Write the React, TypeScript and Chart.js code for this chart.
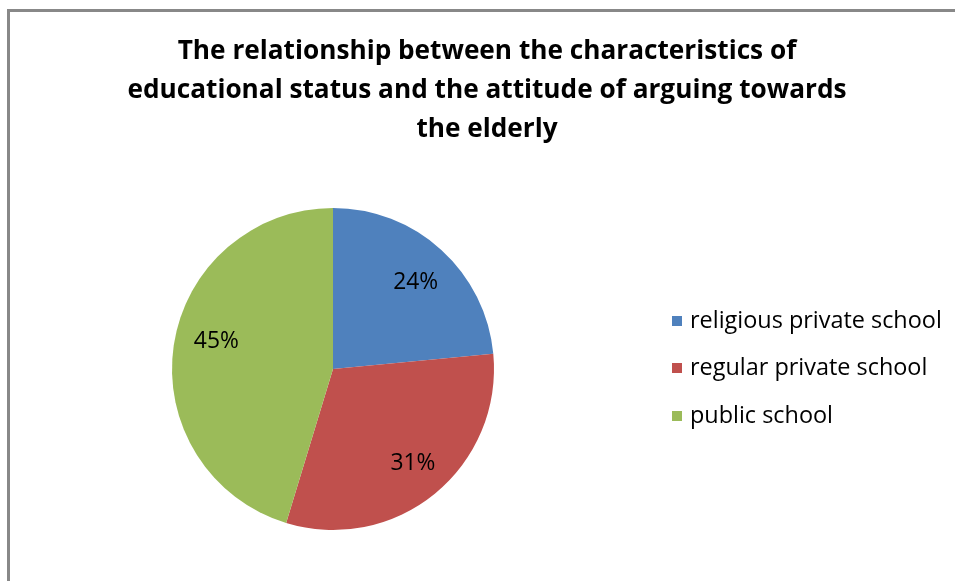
import React, { useEffect, useRef } from "react";
import { Chart, registerables } from "chart.js";

Chart.register(...registerables);

const titleLines = [
  "The relationship between the characteristics of",
  "educational status and the attitude of arguing towards",
  "the elderly",
];
const categories = ["religious private school", "regular private school", "public school"];
const values = [23.5, 31.2, 45.3];
const colors = ["#4F81BD", "#C0504D", "#9BBB59"];

const FONT = "'Open Sans', Lato, sans-serif";

function fitSize(ctx: CanvasRenderingContext2D, text: string, weight: string, target: number) {
  ctx.font = `${weight} 20px ${FONT}`;
  const w = ctx.measureText(text).width;
  return (20 * target) / w;
}

// small nudges to match the reference label placement
const labelNudge = [
  [2, 2],
  [4, 2],
  [2, -10],
];

const overlayPlugin = {
  id: "overlay",
  afterDraw(chart: any) {
    const ctx = chart.ctx as CanvasRenderingContext2D;
    ctx.save();
    // title
    const ts = fitSize(ctx, titleLines[0], "bold", 619);
    ctx.fillStyle = "#000";
    ctx.font = `bold ${ts}px ${FONT}`;
    ctx.textAlign = "center";
    ctx.textBaseline = "middle";
    const ty = [52, 91, 130];
    titleLines.forEach((t, i) => ctx.fillText(t, 487, ty[i]));

    // data labels
    const meta = chart.getDatasetMeta(0);
    const total = values.reduce((a, b) => a + b, 0);
    const ls = fitSize(ctx, "24%", "normal", 45);
    ctx.font = `${ls}px ${FONT}`;
    meta.data.forEach((arc: any, i: number) => {
      const p = arc.getProps(["x", "y", "startAngle", "endAngle", "outerRadius"], true);
      const mid = (p.startAngle + p.endAngle) / 2;
      const r = p.outerRadius * 0.745;
      const x = p.x + Math.cos(mid) * r + labelNudge[i][0];
      const y = p.y + Math.sin(mid) * r + labelNudge[i][1];
      const pct = Math.round((values[i] / total) * 100 + 1e-6) + "%";
      ctx.fillStyle = "#000";
      ctx.fillText(pct, x, y);
    });

    // legend
    const gs = fitSize(ctx, categories[0], "normal", 252);
    ctx.textAlign = "left";
    ctx.font = `${gs}px ${FONT}`;
    const ly = [321, 368, 416];
    categories.forEach((c, i) => {
      ctx.fillStyle = colors[i];
      ctx.fillRect(672, ly[i] - 5, 10, 10);
      ctx.fillStyle = "#000";
      ctx.fillText(c, 690, ly[i]);
    });
    ctx.restore();
  },
};

export default function App() {
  const ref = useRef<HTMLCanvasElement>(null);
  useEffect(() => {
    if (!ref.current) return;
    const chart = new Chart(ref.current, {
      type: "pie",
      data: {
        labels: categories,
        datasets: [
          {
            data: values,
            backgroundColor: colors,
            borderWidth: 0,
          },
        ],
      },
      options: {
        animation: false,
        responsive: false,
        maintainAspectRatio: false,
        layout: { padding: { left: 172, right: 461, top: 208, bottom: 51 } },
        plugins: {
          legend: { display: false },
          title: { display: false },
          tooltip: { enabled: false },
        },
      },
      plugins: [overlayPlugin],
    });
    return () => chart.destroy();
  }, []);

  return (
    <div style={{ position: "absolute", left: 0, top: 0, width: 955, height: 581, overflow: "hidden", background: "#fff" }}>
      <canvas ref={ref} width={955} height={581} style={{ position: "absolute", left: 0, top: 0 }} />
      <div
        style={{
          position: "absolute",
          left: 7,
          top: 9,
          width: 1000,
          height: 1000,
          borderTop: "3px solid #888",
          borderLeft: "3px solid #888",
          pointerEvents: "none",
        }}
      />
    </div>
  );
}
